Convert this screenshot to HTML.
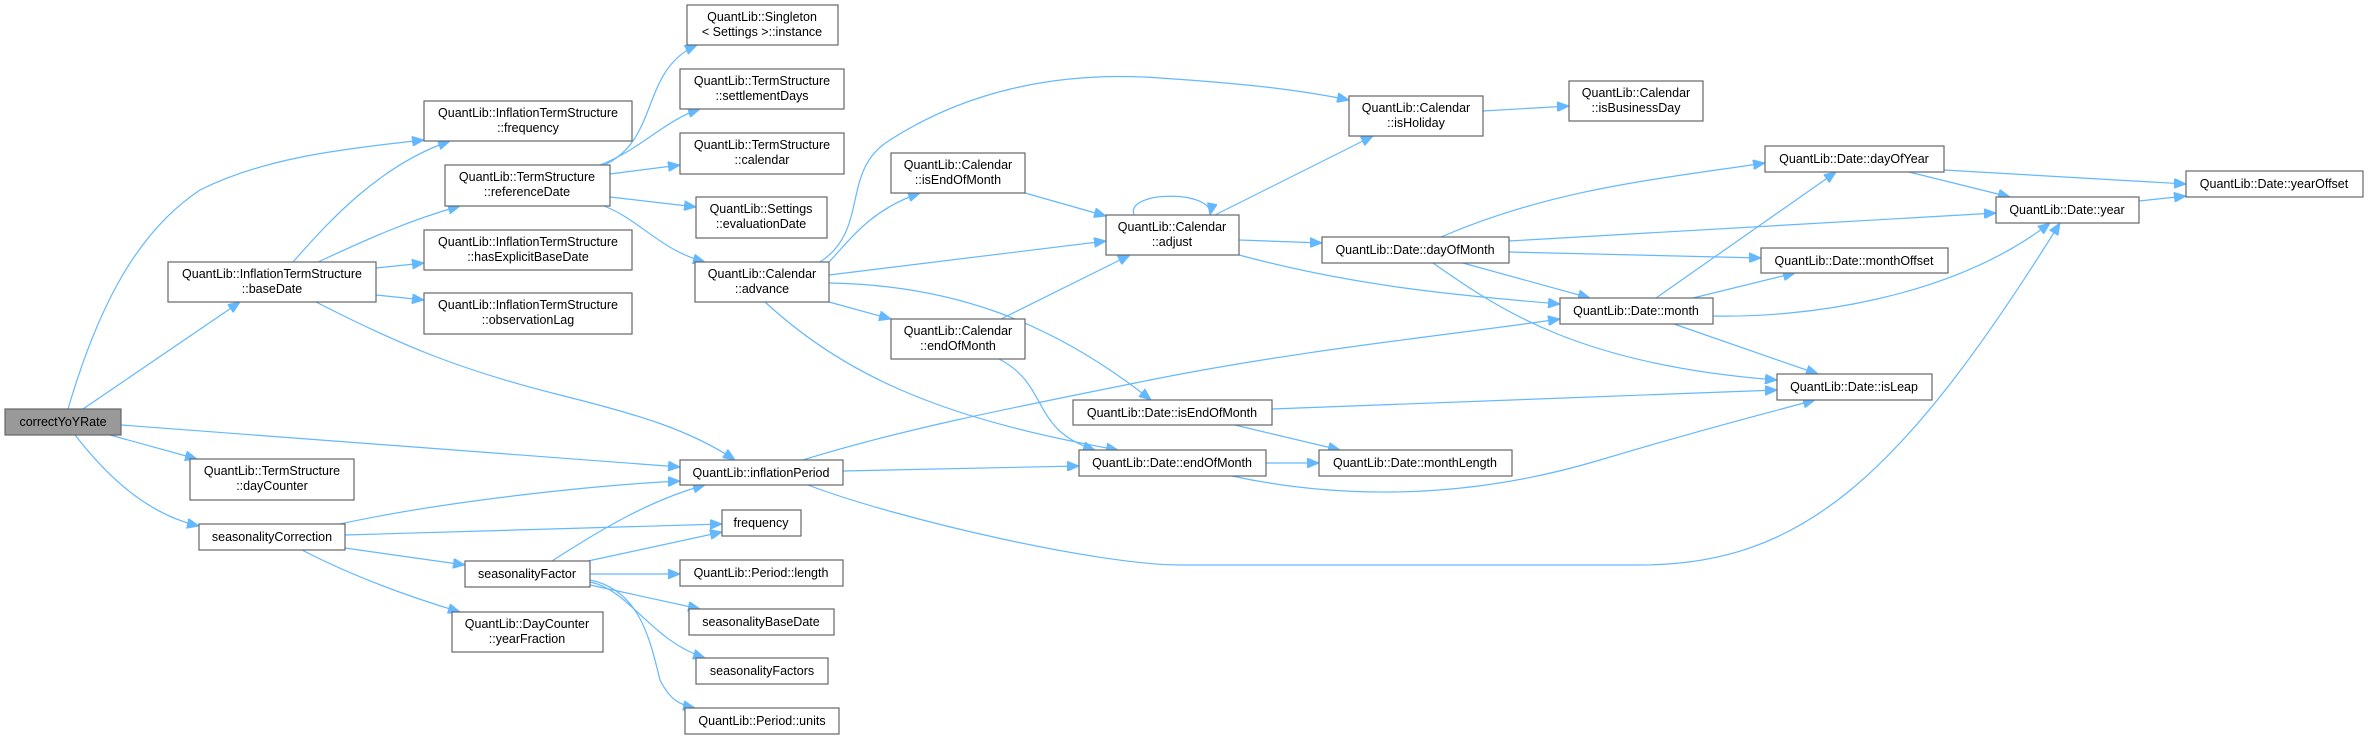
<!DOCTYPE html>
<html><head><meta charset="utf-8"><style>
html,body{margin:0;padding:0;background:#fff;}
svg{display:block;}
text{font-family:"Liberation Sans",sans-serif;font-size:12.5px;fill:#000;text-anchor:middle;}
.n{fill:#fff;stroke:#666;stroke-width:1.2;}
.r{fill:#999;stroke:#666;stroke-width:1.2;}
.e{fill:none;stroke:#63b8ff;stroke-width:1.2;marker-end:url(#a);}
</style></head><body>
<svg width="2368" height="738" viewBox="0 0 2368 738" xmlns="http://www.w3.org/2000/svg">
<defs><marker id="a" markerUnits="userSpaceOnUse" markerWidth="13" markerHeight="10" refX="12" refY="5" orient="auto"><path d="M0,0 L12,5 L0,10 z" fill="#63b8ff" stroke="#63b8ff"/></marker></defs>
<g>
<path class="e" d="M68,409 C100,300 140,230 200,190 C260,160 330,150 424,140"/>
<path class="e" d="M83,409 L240,302"/>
<path class="e" d="M121,425 L680,467"/>
<path class="e" d="M110,435 L197,459"/>
<path class="e" d="M75,435 C110,480 150,515 199,526"/>
<path class="e" d="M293,262 C330,220 380,165 450,141"/>
<path class="e" d="M318,262 C370,238 410,220 460,206"/>
<path class="e" d="M376,268 L424,263"/>
<path class="e" d="M376,295 L424,300"/>
<path class="e" d="M316,302 C400,345 460,370 560,395 C640,415 690,430 735,460"/>
<path class="e" d="M604,165 C660,140 640,70 697,45"/>
<path class="e" d="M600,165 C640,150 665,120 700,109"/>
<path class="e" d="M610,174 L680,165"/>
<path class="e" d="M610,197 L696,207"/>
<path class="e" d="M604,206 C640,220 660,250 705,262"/>
<path class="e" d="M820,262 C870,230 840,170 890,140 C960,95 1050,70 1160,78 C1250,84 1300,90 1349,100"/>
<path class="e" d="M829,262 C850,240 870,210 920,193"/>
<path class="e" d="M829,275 L1106,241"/>
<path class="e" d="M829,302 L891,319"/>
<path class="e" d="M829,283 C950,285 1050,320 1151,400"/>
<path class="e" d="M765,302 C850,380 950,420 1118,450"/>
<path class="e" d="M1025,193 L1106,216"/>
<path class="e" d="M1001,319 L1130,255"/>
<path class="e" d="M999,359 C1050,385 1030,430 1095,450"/>
<path class="e" d="M1134,215 C1125,190 1215,190 1210,215"/>
<path class="e" d="M1215,215 L1373,136"/>
<path class="e" d="M1239,240 L1322,243"/>
<path class="e" d="M1239,255 C1350,285 1450,295 1560,304"/>
<path class="e" d="M1483,111 L1569,106"/>
<path class="e" d="M1441,237 C1550,190 1650,180 1765,163"/>
<path class="e" d="M1509,241 L1996,213"/>
<path class="e" d="M1509,252 L1761,258"/>
<path class="e" d="M1463,263 L1590,298"/>
<path class="e" d="M1433,263 C1500,310 1580,365 1777,380"/>
<path class="e" d="M1656,298 L1836,172"/>
<path class="e" d="M1693,298 L1795,273"/>
<path class="e" d="M1713,316 C1800,318 1950,300 2050,223"/>
<path class="e" d="M1674,324 L1818,374"/>
<path class="e" d="M1944,170 L2186,184"/>
<path class="e" d="M1909,172 L2010,197"/>
<path class="e" d="M2139,201 L2186,196"/>
<path class="e" d="M1272,409 L1777,390"/>
<path class="e" d="M1235,425 L1340,450"/>
<path class="e" d="M1266,463 L1319,463"/>
<path class="e" d="M1232,476 C1320,495 1450,505 1600,460 C1700,430 1760,415 1815,400"/>
<path class="e" d="M803,460 C900,430 1000,410 1150,380 C1300,350 1450,335 1560,319"/>
<path class="e" d="M843,471 L1079,466"/>
<path class="e" d="M808,485 C900,520 1100,565 1180,565 L1640,565 C1800,565 1900,480 2060,223"/>
<path class="e" d="M340,524 C450,500 600,485 680,481"/>
<path class="e" d="M345,535 L722,524"/>
<path class="e" d="M345,548 L465,565"/>
<path class="e" d="M302,550 C360,580 420,600 460,612"/>
<path class="e" d="M552,561 C600,530 650,500 705,485"/>
<path class="e" d="M588,561 L722,532"/>
<path class="e" d="M590,574 L680,574"/>
<path class="e" d="M590,585 L700,609"/>
<path class="e" d="M590,582 C630,590 650,640 705,658"/>
<path class="e" d="M590,580 C640,590 650,640 660,680 C670,700 680,705 695,708"/>
</g>
<g>
<rect class="r" x="5" y="409" width="116" height="26"/><text x="63" y="426">correctYoYRate</text>
<rect class="n" x="424" y="101" width="208" height="40"/><text x="528" y="117">QuantLib::InflationTermStructure</text><text x="528" y="132">::frequency</text>
<rect class="n" x="445" y="165" width="165" height="41"/><text x="527" y="181">QuantLib::TermStructure</text><text x="527" y="196">::referenceDate</text>
<rect class="n" x="687" y="5" width="151" height="40"/><text x="762" y="21">QuantLib::Singleton</text><text x="762" y="36">&lt; Settings &gt;::instance</text>
<rect class="n" x="680" y="69" width="164" height="40"/><text x="762" y="85">QuantLib::TermStructure</text><text x="762" y="100">::settlementDays</text>
<rect class="n" x="680" y="133" width="164" height="41"/><text x="762" y="149">QuantLib::TermStructure</text><text x="762" y="164">::calendar</text>
<rect class="n" x="696" y="197" width="131" height="41"/><text x="761" y="213">QuantLib::Settings</text><text x="761" y="228">::evaluationDate</text>
<rect class="n" x="695" y="262" width="134" height="40"/><text x="762" y="278">QuantLib::Calendar</text><text x="762" y="293">::advance</text>
<rect class="n" x="168" y="262" width="208" height="40"/><text x="272" y="278">QuantLib::InflationTermStructure</text><text x="272" y="293">::baseDate</text>
<rect class="n" x="424" y="230" width="208" height="40"/><text x="528" y="246">QuantLib::InflationTermStructure</text><text x="528" y="261">::hasExplicitBaseDate</text>
<rect class="n" x="424" y="293" width="208" height="41"/><text x="528" y="309">QuantLib::InflationTermStructure</text><text x="528" y="324">::observationLag</text>
<rect class="n" x="190" y="459" width="164" height="41"/><text x="272" y="475">QuantLib::TermStructure</text><text x="272" y="490">::dayCounter</text>
<rect class="n" x="680" y="460" width="163" height="25"/><text x="761" y="477">QuantLib::inflationPeriod</text>
<rect class="n" x="199" y="524" width="146" height="26"/><text x="272" y="541">seasonalityCorrection</text>
<rect class="n" x="722" y="510" width="79" height="26"/><text x="761" y="527">frequency</text>
<rect class="n" x="465" y="561" width="125" height="26"/><text x="527" y="578">seasonalityFactor</text>
<rect class="n" x="680" y="560" width="163" height="26"/><text x="761" y="577">QuantLib::Period::length</text>
<rect class="n" x="689" y="609" width="145" height="26"/><text x="761" y="626">seasonalityBaseDate</text>
<rect class="n" x="696" y="658" width="132" height="26"/><text x="762" y="675">seasonalityFactors</text>
<rect class="n" x="685" y="708" width="154" height="26"/><text x="762" y="725">QuantLib::Period::units</text>
<rect class="n" x="452" y="612" width="151" height="40"/><text x="527" y="628">QuantLib::DayCounter</text><text x="527" y="643">::yearFraction</text>
<rect class="n" x="1349" y="96" width="134" height="40"/><text x="1416" y="112">QuantLib::Calendar</text><text x="1416" y="127">::isHoliday</text>
<rect class="n" x="1569" y="81" width="134" height="40"/><text x="1636" y="97">QuantLib::Calendar</text><text x="1636" y="112">::isBusinessDay</text>
<rect class="n" x="891" y="153" width="134" height="40"/><text x="958" y="169">QuantLib::Calendar</text><text x="958" y="184">::isEndOfMonth</text>
<rect class="n" x="1106" y="215" width="133" height="40"/><text x="1172" y="231">QuantLib::Calendar</text><text x="1172" y="246">::adjust</text>
<rect class="n" x="1322" y="237" width="187" height="26"/><text x="1415" y="254">QuantLib::Date::dayOfMonth</text>
<rect class="n" x="891" y="319" width="134" height="40"/><text x="958" y="335">QuantLib::Calendar</text><text x="958" y="350">::endOfMonth</text>
<rect class="n" x="1073" y="400" width="199" height="25"/><text x="1172" y="417">QuantLib::Date::isEndOfMonth</text>
<rect class="n" x="1079" y="450" width="187" height="26"/><text x="1172" y="467">QuantLib::Date::endOfMonth</text>
<rect class="n" x="1319" y="450" width="193" height="26"/><text x="1415" y="467">QuantLib::Date::monthLength</text>
<rect class="n" x="1560" y="298" width="153" height="26"/><text x="1636" y="315">QuantLib::Date::month</text>
<rect class="n" x="1765" y="146" width="179" height="26"/><text x="1854" y="163">QuantLib::Date::dayOfYear</text>
<rect class="n" x="2186" y="171" width="177" height="26"/><text x="2274" y="188">QuantLib::Date::yearOffset</text>
<rect class="n" x="1996" y="197" width="143" height="26"/><text x="2067" y="214">QuantLib::Date::year</text>
<rect class="n" x="1761" y="248" width="187" height="25"/><text x="1854" y="265">QuantLib::Date::monthOffset</text>
<rect class="n" x="1777" y="374" width="155" height="26"/><text x="1854" y="391">QuantLib::Date::isLeap</text>
</g>
</svg>
</body></html>
